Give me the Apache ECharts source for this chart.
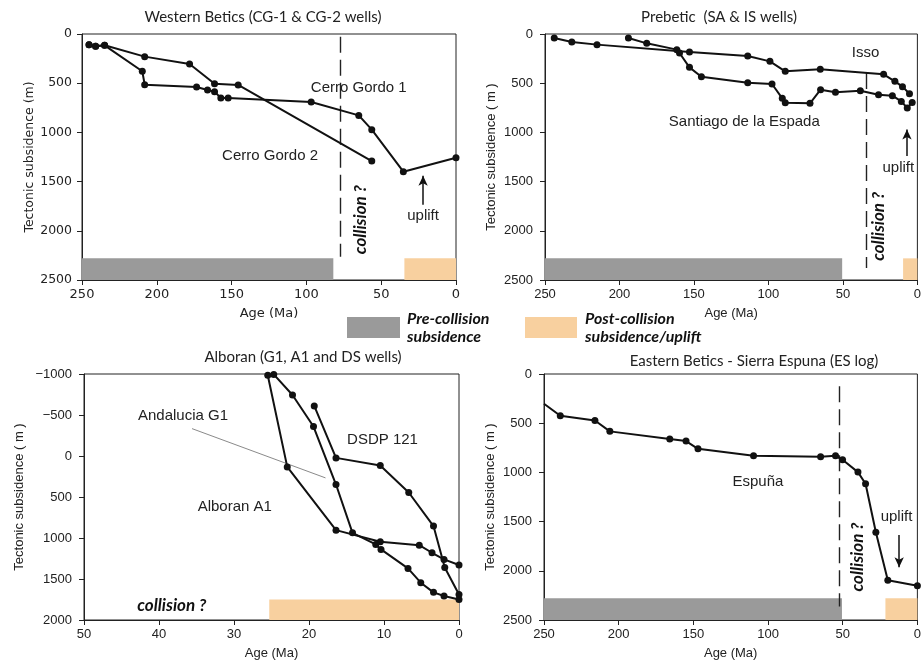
<!DOCTYPE html>
<html>
<head>
<meta charset="utf-8">
<script src="https://cdn.jsdelivr.net/npm/echarts@6/dist/echarts.min.js"></script>
<style>
html,body{margin:0;padding:0;background:#fff;}
#c{width:924px;height:662px;}
</style>
</head>
<body>
<div id="c"></div>
<script>
// ---------------- DATA ----------------
// Panel 1: Western Betics
const wbCG1Age = [245.3, 240.9, 234.9, 209.7, 208.1, 173.4, 166.1, 161.4, 157.2, 152.3, 96.8, 65.0, 56.3, 35.2, 0];
const wbCG1Sub = [108, 125, 115, 379, 515, 539, 569, 586, 650, 650, 691, 827, 972, 1399, 1257];
const wbCG2Age = [245.3, 240.9, 234.9, 208.1, 178.1, 161.4, 145.6, 56.3];
const wbCG2Sub = [108, 125, 115, 230, 305, 505, 518, 1291];

// Panel 2: Prebetic
const isAge = [243.8, 232.0, 215.1, 153.0, 113.9, 99.0, 88.7, 65.2, 22.7, 15.1, 10.0, 5.3];
const isSub = [41, 81, 108, 183, 224, 278, 379, 359, 410, 481, 535, 607];
const saAge = [194.0, 181.7, 161.5, 159.7, 153.0, 145.0, 113.9, 97.6, 90.7, 88.7, 72.1, 65.0, 55.0, 38.3, 26.1, 16.8, 10.8, 6.8, 3.5];
const saSub = [41, 95, 159, 193, 339, 434, 495, 508, 654, 698, 705, 566, 593, 576, 617, 627, 685, 752, 695];

// Panel 3: Alboran
const g1Age = [25.5, 22.9, 16.4, 10.5, 5.3, 3.6, 2.0, 0];
const g1Sub = [-985, 133, 904, 1046, 1087, 1180, 1261, 1330];
const a1Age = [24.7, 22.2, 19.4, 16.4, 14.2, 11.1, 10.4, 6.8, 5.1, 3.4, 2.0, 0];
const a1Sub = [-995, -744, -359, 348, 937, 1079, 1139, 1371, 1545, 1663, 1708, 1750];
const dsAge = [19.3, 16.4, 10.5, 6.7, 3.4, 1.9, 0];
const dsSub = [-610, 23, 117, 445, 855, 1359, 1690];

// Panel 4: Eastern Betics - Sierra Espuna
const esAge = [250, 239.1, 215.9, 205.9, 165.8, 154.9, 146.9, 109.7, 64.8, 54.8, 50.1, 39.8, 34.7, 27.8, 19.8, 0];
const esSub = [302, 424, 472, 583, 661, 682, 760, 831, 841, 831, 872, 997, 1116, 1608, 2096, 2151];

// Phases: [ageFrom, ageTo, subTop, subBottom]
const wbPre = [250, 82, 2280, 2500];   const wbPost = [34.5, 0, 2280, 2500];
const pbPre = [250, 50.5, 2280, 2500]; const pbPost = [9.6, 0, 2280, 2500];
const alPost = [25.3, 0, 1750, 2000];
const esPre = [250, 50.5, 2280, 2500]; const esPost = [21.4, 0, 2280, 2500];

const titles = ['Western Betics (CG-1 & CG-2 wells)', 'Prebetic  (SA & IS wells)', 'Alboran (G1, A1 and DS wells)', 'Eastern Betics - Sierra Espuna (ES log)'];
const legendLabels = ['Pre-collision\nsubsidence', 'Post-collision\nsubsidence/uplift'];

// ---------------- STYLE ----------------
const GRAY = '#9a9a9a', ORANGE = '#f8d09f', INK = '#111';
const SANS = '"Liberation Sans", Arial, sans-serif';
const DJV = '"DejaVu Sans", sans-serif';
const TITLEF = 'Lato, "Open Sans", sans-serif';

const zip = (a, b) => a.map((v, i) => [v, b[i]]);

function xAxis(gi, max, interval, font, fs) {
  return {
    gridIndex: gi, type: 'value', inverse: true, min: 0, max: max, interval: interval,
    name: 'Age (Ma)', nameLocation: 'middle', nameGap: 27,
    nameTextStyle: {fontFamily: font, fontSize: fs, color: '#222'},
    axisLine: {show: true, onZero: false, lineStyle: {color: '#222', width: 1}},
    axisTick: {show: true, inside: false, length: 5, lineStyle: {color: '#222'}},
    axisLabel: {fontFamily: font, fontSize: fs, color: '#222', margin: 8},
    splitLine: {show: false}
  };
}
function yAxis(gi, min, max, name, font, fs, gap, margin) {
  return {
    gridIndex: gi, type: 'value', inverse: true, min: min, max: max, interval: 500,
    name: name, nameLocation: 'middle', nameGap: gap, nameRotate: 90,
    nameTextStyle: {fontFamily: font, fontSize: fs, color: '#222'},
    axisLine: {show: true, onZero: false, lineStyle: {color: '#222', width: 1}},
    axisTick: {show: true, inside: false, length: 5, lineStyle: {color: '#222'}},
    axisLabel: {fontFamily: font, fontSize: fs, color: '#222', margin: margin,
      formatter: v => String(v).replace('-', '\u2212')},
    splitLine: {show: false}
  };
}

function lineSeries(gi, name, data, extra) {
  return Object.assign({
    type: 'line', name: name, xAxisIndex: gi, yAxisIndex: gi, data: data,
    symbol: 'circle', symbolSize: 7, showSymbol: true, clip: false,
    itemStyle: {color: INK}, lineStyle: {color: INK, width: 2},
    silent: true, animation: false, z: 5
  }, extra || {});
}

function phaseArea(p, color) {
  return [{coord: [p[0], p[2]], itemStyle: {color: color}}, {coord: [p[1], p[3]]}];
}
function text(x, y, t, opts) {
  return {
    coord: [x, y], symbol: 'circle', symbolSize: 1, itemStyle: {color: 'rgba(0,0,0,0)'},
    label: Object.assign({show: true, position: 'inside', formatter: t, color: '#222',
      fontFamily: SANS, fontSize: 15}, opts || {})
  };
}
const collisionStyle = {fontFamily: TITLEF, fontWeight: 'bold', fontStyle: 'italic', fontSize: 17, color: '#111'};
function vDash(x, y0, y1) {
  return [{coord: [x, y0]}, {coord: [x, y1]}];
}
function arrow(x, y0, y1) {
  return [{coord: [x, y0]}, {coord: [x, y1]}];
}
function marks(areas, texts, dashes, arrows, extraLines) {
  const lines = [];
  dashes.forEach(d => lines.push(d.map((p, i) => i === 0 ? Object.assign({}, p, {lineStyle: {type: [16, 7], color: '#222', width: 1.4}, symbol: 'none'}) : p)));
  arrows.forEach(a => lines.push([Object.assign({}, a[0], {lineStyle: {type: 'solid', color: '#111', width: 1.5}, symbol: 'none'}), Object.assign({}, a[1], {symbol: 'arrow', symbolSize: [7, 10]})]));
  (extraLines || []).forEach(l => lines.push(l));
  return {
    markArea: {silent: true, data: areas, z: 1},
    markPoint: {silent: true, data: texts, animation: false},
    markLine: {silent: true, symbol: ['none', 'none'], animation: false, label: {show: false}, data: lines}
  };
}

const option = {
  animation: false,
  backgroundColor: '#fff',
  grid: [
    {left: 82, top: 34, width: 374, height: 246, show: true, borderColor: '#222', borderWidth: 1},
    {left: 545, top: 34, width: 375, height: 246, show: true, borderColor: '#222', borderWidth: 1},
    {left: 84, top: 374, width: 375, height: 246, show: true, borderColor: '#222', borderWidth: 1},
    {left: 544, top: 374, width: 374, height: 246, show: true, borderColor: '#222', borderWidth: 1}
  ],
  xAxis: [
    xAxis(0, 250, 50, DJV, 13),
    xAxis(1, 250, 50, SANS, 13),
    xAxis(2, 50, 10, SANS, 13),
    xAxis(3, 250, 50, SANS, 13)
  ],
  yAxis: [
    yAxis(0, 0, 2500, 'Tectonic subsidence (m)', DJV, 12.5, 46, 10),
    yAxis(1, 0, 2500, 'Tectonic subsidence ( m )', SANS, 13, 47, 12),
    yAxis(2, -1000, 2000, 'Tectonic subsidence ( m )', SANS, 13, 58, 12),
    yAxis(3, 0, 2500, 'Tectonic subsidence ( m )', SANS, 13, 47, 12)
  ],
  series: [
    // Panel 1
    lineSeries(0, 'Cerro Gordo 1', zip(wbCG1Age, wbCG1Sub), marks(
      [phaseArea(wbPre, GRAY), phaseArea(wbPost, ORANGE)],
      [text(65, 546, 'Cerro Gordo 1'), text(124.3, 1238, 'Cerro Gordo 2'),
       text(63.5, 1887, 'collision ?', Object.assign({rotate: 90}, collisionStyle)),
       text(22, 1850, 'uplift')],
      [vDash(77.5, 27, 2263)],
      [arrow(22, 1735, 1440)]
    )),
    lineSeries(0, 'Cerro Gordo 2', zip(wbCG2Age, wbCG2Sub)),
    // Panel 2
    lineSeries(1, 'Isso', zip(isAge, isSub), marks(
      [phaseArea(pbPre, GRAY), phaseArea(pbPost, ORANGE)],
      [text(34.8, 190, 'Isso'), text(116.2, 892, 'Santiago de la Espada'),
       text(25.9, 1955, 'collision ?', Object.assign({rotate: 90}, collisionStyle)),
       text(12.8, 1359, 'uplift')],
      [vDash(34.2, 397, 2378)],
      [arrow(7, 1240, 970)]
    )),
    lineSeries(1, 'Santiago de la Espada', zip(saAge, saSub)),
    // Panel 3
    lineSeries(2, 'Andalucia G1', zip(g1Age, g1Sub), marks(
      [phaseArea(alPost, ORANGE)],
      [text(36.8, -485, 'Andalucia G1'), text(10.2, -193, 'DSDP 121'), text(29.9, 623, 'Alboran A1'),
       text(38.3, 1829, 'collision ?', collisionStyle)],
      [], [],
      [[{coord: [35.6, -334], symbol: 'none', lineStyle: {type: 'solid', color: '#8a8a8a', width: 1}}, {coord: [17.8, 267]}]]
    )),
    lineSeries(2, 'Alboran A1', zip(a1Age, a1Sub)),
    lineSeries(2, 'DSDP 121', zip(dsAge, dsSub)),
    // Panel 4
    lineSeries(3, 'Espuña', zip(esAge, esSub).map((p, i) => i === 0 ? {value: p, symbol: 'none'} : p), marks(
      [phaseArea(esPre, GRAY), phaseArea(esPost, ORANGE)],
      [text(106.8, 1097, 'Espuña'),
       text(40, 1860, 'collision ?', Object.assign({rotate: 90}, collisionStyle)),
       text(14, 1453, 'uplift')],
      [vDash(52, 125, 2364)],
      [arrow(12.2, 1636, 1965)]
    ))
  ],
  graphic: [
    {type: 'text', x: 263, y: 17, style: {text: titles[0], textAlign: 'center', textVerticalAlign: 'middle', font: '15px ' + TITLEF, fill: '#222'}},
    {type: 'text', x: 719, y: 17, style: {text: titles[1], textAlign: 'center', textVerticalAlign: 'middle', font: '15px ' + TITLEF, fill: '#222'}},
    {type: 'text', x: 303, y: 357, style: {text: titles[2], textAlign: 'center', textVerticalAlign: 'middle', font: '15px ' + TITLEF, fill: '#222'}},
    {type: 'text', x: 754, y: 361, style: {text: titles[3], textAlign: 'center', textVerticalAlign: 'middle', font: '15px ' + TITLEF, fill: '#222'}},
    {type: 'rect', shape: {x: 347, y: 317, width: 53, height: 21}, style: {fill: GRAY}},
    {type: 'text', x: 407, y: 328, style: {text: legendLabels[0], textAlign: 'left', textVerticalAlign: 'middle', font: 'italic bold 16px ' + TITLEF, fill: '#111', lineHeight: 18}},
    {type: 'rect', shape: {x: 525, y: 317, width: 52, height: 21}, style: {fill: ORANGE}},
    {type: 'text', x: 585, y: 328, style: {text: legendLabels[1], textAlign: 'left', textVerticalAlign: 'middle', font: 'italic bold 16px ' + TITLEF, fill: '#111', lineHeight: 18}}
  ]
};

const chart = echarts.init(document.getElementById('c'), null, {renderer: 'canvas'});
chart.setOption(option);
</script>
</body>
</html>
